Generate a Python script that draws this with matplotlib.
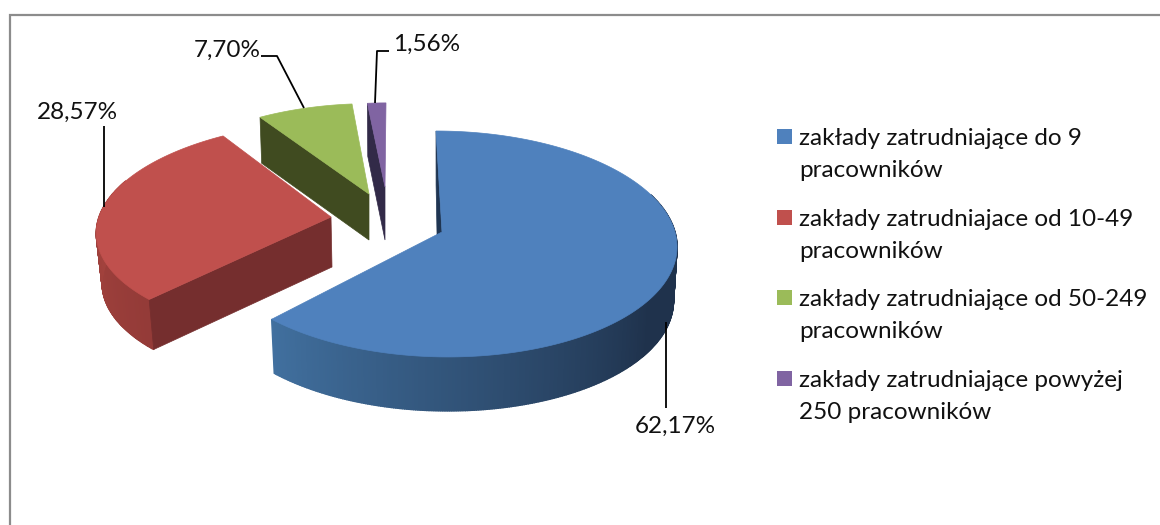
import numpy as np
import matplotlib
matplotlib.use("Agg")
import matplotlib.pyplot as plt
from matplotlib.colors import to_rgb
from matplotlib.patches import Polygon, Rectangle

plt.rcParams["font.family"] = ["Lato", "DejaVu Sans"]

labels = [
    "zakłady zatrudniające do 9\npracowników",
    "zakłady zatrudniajace od 10-49\npracowników",
    "zakłady zatrudniające od 50-249\npracowników",
    "zakłady zatrudniające powyżej\n250 pracowników",
]
values = [62.17, 28.57, 7.70, 1.56]

# exploded 3d pie look: one apex / radii per slice, all in pixels of the picture
apex = [(442, 232), (331, 217), (369, 194), (385, 187)]
rx = [233, 232, 220, 210]
ry = [111.7, 105.6, 100, 93]
shear = [-6, 11, 2.5, 1]
depth = [54, 50, 46, 53]
shrink = [0.985, 0.975, 0.985, 0.98]
apex_dx = [-4, 1, 0, 0]

face = ["#4f81bd", "#c0504d", "#9bbb59", "#8064a2"]
wall = ["#1f3552", "#752e2e", "#404b20", "#322a48"]
# rim colour: light end (toward the left of the pie), dark end
rim = [("#41709f", "#1f324c"), ("#a8453f", "#943b38"), ("#404b20", "#404b20"), ("#322a48", "#322a48")]
rim_span = [(223.8, 125), (290, 225), (0, 1), (0, 1)]

# label centre, then leader line
label_xy = [(675, 426), (77, 112), (227, 50), (427, 44)]
leaders = [
    [(666, 322), (666, 408)],
    [(104, 207), (104, 126)],
    [(304, 108), (277, 56), (261, 56)],
    [(375, 103), (377, 51), (389, 51)],
]
legend_y = [136.5, 217.5, 297.5, 378.5]

K = 0.106


def project(i, deg, drop=False):
    t = np.radians(deg)
    u, v = np.sin(t), np.cos(t)
    s = 1 / (1 + K * v)
    x = rx[i] * u * s + shear[i] * v
    y = -ry[i] * v * s
    if drop:
        return apex[i][0] + x * shrink[i], apex[i][1] + y + depth[i]
    return apex[i][0] + x, apex[i][1] + y


fig = plt.figure(figsize=(11.6, 5.25), dpi=100)
ax = fig.add_axes([0, 0, 1, 1])
ax.set_xlim(0, 1160)
ax.set_ylim(525, 0)
ax.axis("off")

# chart frame, only top and left are in the crop
ax.plot([1160, 9.5, 9.5], [14.5, 14.5, 525], color="#8c8c8c", lw=1.6, solid_joinstyle="miter")

bounds = np.cumsum([0] + values) / sum(values) * 360
for i in [3, 2, 1, 0]:
    a0, a1 = bounds[i], bounds[i + 1]
    ts = np.linspace(a0, a1, max(6, int((a1 - a0) * 2)))

    # outer rim, thin strips so the shading runs along it; the back part is never seen
    c0, c1 = np.array(to_rgb(rim[i][0])), np.array(to_rgb(rim[i][1]))
    hi, lo = rim_span[i]
    for t0, t1 in zip(ts[:-1], ts[1:]):
        if np.cos(np.radians(t0)) > 0.35:
            continue
        f = np.clip((hi - t0) / (hi - lo), 0, 1)
        col = c0 + (c1 - c0) * f
        quad = [project(i, t0), project(i, t1), project(i, t1, True), project(i, t0, True)]
        ax.add_patch(Polygon(quad, fc=col, ec=col, lw=1.0))

    # cut wall at the start of the slice
    ax_, ay_ = apex[i]
    ax.add_patch(Polygon([(ax_, ay_), project(i, a0), project(i, a0, True),
                          (ax_ + apex_dx[i], ay_ + depth[i])], fc=wall[i], ec=wall[i], lw=0.5))

    # top face
    pts = [apex[i]] + [project(i, t) for t in ts]
    ax.add_patch(Polygon(pts, fc=face[i], ec=face[i], lw=0.5))

for i, v in enumerate(values):
    xs, ys = zip(*leaders[i])
    ax.plot(xs, ys, color="black", lw=1.3, solid_capstyle="butt")
    ax.text(*label_xy[i], f"{v:.2f}%".replace(".", ","), fontsize=17.5, color="#111111",
            ha="center", va="center")

for i, lab in enumerate(labels):
    y = legend_y[i]
    ax.add_patch(Rectangle((777, y - 7.5), 15, 15, fc=face[i], ec="none"))
    ax.text(799, y + 18, lab, fontsize=17.5, color="#111111", ha="left", va="center",
            linespacing=1.62)

fig.savefig("out.png", dpi=100)
